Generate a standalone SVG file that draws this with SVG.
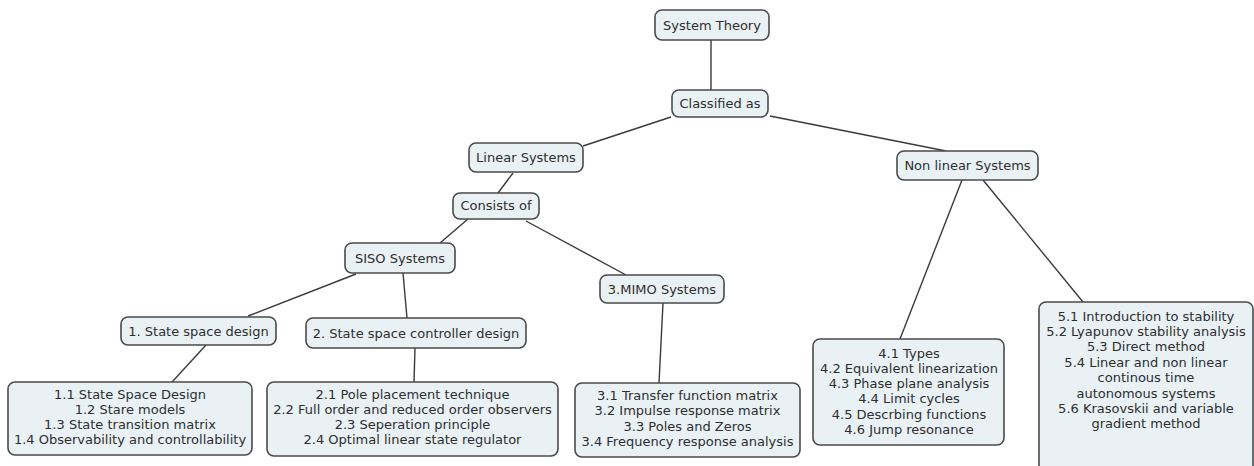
<svg xmlns="http://www.w3.org/2000/svg" width="1254" height="466" viewBox="0 0 1254 466">
<style>
.n rect{fill:#e9f1f5;stroke:#4a4a4a;stroke-width:1.6}
.n text{font-family:"DejaVu Sans",Verdana,sans-serif;font-size:13px;fill:#2e2e2e;text-anchor:middle}
.c line{stroke:#3a3a3a;stroke-width:1.4}
</style>
<rect width="1254" height="466" fill="#fff"/>
<g class="c">
<line x1="711" y1="40" x2="711" y2="90"/>
<line x1="671" y1="117" x2="583" y2="146"/>
<line x1="770" y1="116" x2="946" y2="151"/>
<line x1="513" y1="173" x2="498" y2="193"/>
<line x1="468" y1="219" x2="440" y2="243"/>
<line x1="526" y1="221" x2="626" y2="275"/>
<line x1="356" y1="274" x2="248" y2="316"/>
<line x1="403" y1="273" x2="407" y2="318"/>
<line x1="206" y1="345" x2="172" y2="382"/>
<line x1="415" y1="348" x2="414" y2="382"/>
<line x1="663" y1="303" x2="659" y2="383"/>
<line x1="962" y1="180" x2="900" y2="339"/>
<line x1="983" y1="180" x2="1083" y2="302"/>
</g>
<g id="system-theory" class="n"><rect x="655" y="10" width="114" height="30" rx="7"/><text x="712" y="30">System Theory</text></g>
<g id="classified-as" class="n"><rect x="672" y="90" width="96" height="27" rx="7"/><text x="720" y="108">Classified as</text></g>
<g id="linear-systems" class="n"><rect x="469" y="143" width="114" height="29" rx="7"/><text x="526" y="162">Linear Systems</text></g>
<g id="consists-of" class="n"><rect x="453" y="193" width="86" height="26" rx="7"/><text x="496" y="210">Consists of</text></g>
<g id="siso" class="n"><rect x="345" y="243" width="110" height="30" rx="7"/><text x="400" y="263">SISO Systems</text></g>
<g id="mimo" class="n"><rect x="600" y="275" width="124" height="28" rx="7"/><text x="662" y="294">3.MIMO Systems</text></g>
<g id="state-space-design" class="n"><rect x="121" y="317" width="155" height="28" rx="7"/><text x="198.5" y="335.5">1. State space design</text></g>
<g id="controller-design" class="n"><rect x="306" y="318" width="220" height="30" rx="7"/><text x="416" y="337.5">2. State space controller design</text></g>
<g id="nonlinear-systems" class="n"><rect x="897" y="151" width="141" height="29" rx="7"/><text x="967.5" y="170">Non linear Systems</text></g>
<g id="topics-1" class="n"><rect x="8" y="382" width="244" height="73" rx="7"/>
<text x="130" y="398.5">1.1 State Space Design</text>
<text x="130" y="413.5">1.2 Stare models</text>
<text x="130" y="428.5">1.3 State transition matrix</text>
<text x="130" y="443.5">1.4 Observability and controllability</text></g>
<g id="topics-2" class="n"><rect x="267" y="382" width="291" height="74" rx="7"/>
<text x="412.5" y="398.5">2.1 Pole placement technique</text>
<text x="412.5" y="413.5">2.2 Full order and reduced order observers</text>
<text x="412.5" y="428.5">2.3 Seperation principle</text>
<text x="412.5" y="443.5">2.4 Optimal linear state regulator</text></g>
<g id="topics-3" class="n"><rect x="575" y="383" width="225" height="74" rx="7"/>
<text x="687.5" y="399.5">3.1 Transfer function matrix</text>
<text x="687.5" y="415">3.2 Impulse response matrix</text>
<text x="687.5" y="430.5">3.3 Poles and Zeros</text>
<text x="687.5" y="446">3.4 Frequency response analysis</text></g>
<g id="topics-4" class="n"><rect x="813" y="339" width="191" height="106" rx="7"/>
<text x="909" y="357.5">4.1 Types</text>
<text x="909" y="372.8">4.2 Equivalent linearization</text>
<text x="909" y="388.1">4.3 Phase plane analysis</text>
<text x="909" y="403.4">4.4 Limit cycles</text>
<text x="909" y="418.7">4.5 Descrbing functions</text>
<text x="909" y="434">4.6 Jump resonance</text></g>
<g id="topics-5" class="n"><rect x="1039" y="302" width="214" height="170" rx="7"/>
<text x="1146" y="320.5">5.1 Introduction to stability</text>
<text x="1146" y="335.9">5.2 Lyapunov stability analysis</text>
<text x="1146" y="351.3">5.3 Direct method</text>
<text x="1146" y="366.7">5.4 Linear and non linear</text>
<text x="1146" y="382.1">continous time</text>
<text x="1146" y="397.5">autonomous systems</text>
<text x="1146" y="412.9">5.6 Krasovskii and variable</text>
<text x="1146" y="428.3">gradient method</text></g>
</svg>
